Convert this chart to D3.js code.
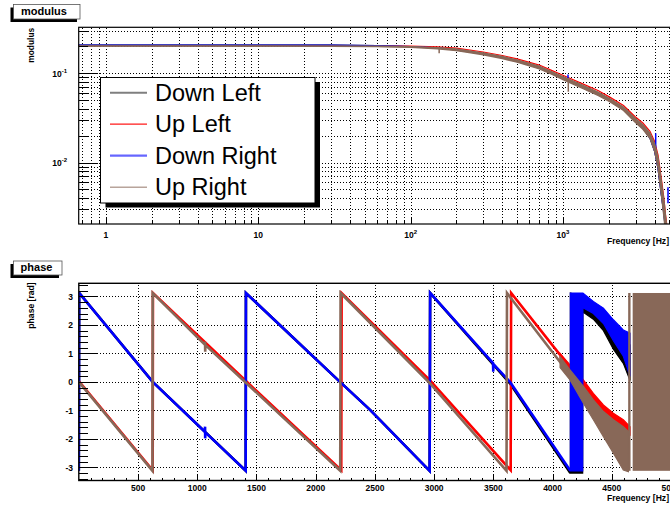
<!DOCTYPE html>
<html><head><meta charset="utf-8">
<script src="https://cdn.jsdelivr.net/npm/d3@7"></script>
<style>
html,body{margin:0;padding:0;background:#fff;}
svg{display:block;font-family:"Liberation Sans",Arial,Helvetica,sans-serif;}
</style></head><body>
<svg id="c" width="670" height="505"></svg>
<script>
// ---------------- DATA ----------------
const seriesNames = ["Down Left", "Up Left", "Down Right", "Up Right"];

// modulus (top panel)
const modFreq      = [0.65, 1, 3, 10, 30, 60, 100, 150, 200, 300, 400, 500, 700, 850, 1000, 1360, 1700, 2030, 2500, 2970, 3350, 3730, 4000, 4210, 4440, 4610, 4720, 4850, 5000];
const downLeftMod  = [0.207, 0.207, 0.207, 0.207, 0.206, 0.204, 0.199, 0.192, 0.183, 0.165, 0.150, 0.137, 0.116, 0.100, 0.0885, 0.070, 0.059, 0.050, 0.040, 0.0298, 0.0243, 0.0188, 0.0134, 0.0086, 0.0042, 0.0026, 0.0017, 0.0012, 0.0009];
const upLeftMod    = [0.204, 0.204, 0.204, 0.204, 0.2035, 0.202, 0.202, 0.198, 0.191, 0.173, 0.158, 0.145, 0.1235, 0.107, 0.095, 0.0755, 0.064, 0.054, 0.0435, 0.0328, 0.0277, 0.0224, 0.0172, 0.0122, 0.0064, 0.0039, 0.0026, 0.0018, 0.0013];
const downRightMod = [0.207, 0.207, 0.207, 0.207, 0.206, 0.204, 0.199, 0.192, 0.183, 0.165, 0.150, 0.137, 0.116, 0.100, 0.0885, 0.070, 0.059, 0.050, 0.040, 0.0298, 0.0243, 0.0188, 0.0134, 0.0086, 0.0042, 0.0026, 0.0017, 0.0012, 0.0009];
const upRightMod   = [0.2015, 0.2015, 0.2015, 0.2015, 0.201, 0.200, 0.197, 0.191, 0.183, 0.165, 0.150, 0.137, 0.116, 0.100, 0.0885, 0.070, 0.059, 0.050, 0.040, 0.030, 0.025, 0.020, 0.0148, 0.010, 0.005, 0.003, 0.002, 0.0014, 0.0010];
const upRightModHi = [0.202, 0.202, 0.202, 0.202, 0.2015, 0.201, 0.199, 0.194, 0.187, 0.169, 0.154, 0.141, 0.120, 0.104, 0.092, 0.073, 0.0615, 0.052, 0.0418, 0.0316, 0.0265, 0.0214, 0.0163, 0.0115, 0.0060, 0.0037, 0.0025, 0.0017, 0.0012];
const upRightModLo = [0.201, 0.201, 0.201, 0.201, 0.2005, 0.199, 0.195, 0.188, 0.179, 0.161, 0.146, 0.133, 0.112, 0.097, 0.085, 0.067, 0.0565, 0.048, 0.0383, 0.0285, 0.0236, 0.0187, 0.0134, 0.0087, 0.0042, 0.0024, 0.0016, 0.0011, 0.0009];
// narrow spikes in modulus
const modSpikeSeries = ["Down Right", "Up Right", "Up Right", "Down Right", "Down Right"];
const modSpikeFreq   = [1080, 154, 1085, 4066, 4898];
const modSpikeLo     = [0.088, 0.168, 0.062, 0.0145, 0.0035];
const modSpikeHi     = [0.097, 0.197, 0.088, 0.0213, 0.0053];

// phase (bottom panel) : polylines
const downLeftPhF  = [0, 3, 624, 1409, 1411, 2205, 2459, 2962, 2966, 3640, 4150];
const downLeftPhV  = [-3.12, 3.12, 0.0, -3.12, 3.12, 0.0, -0.98, -3.12, 3.12, -0.05, -3.2];
const upLeftPhF    = [0, 624, 626, 1409, 2216, 2219, 2965, 3646, 3650, 4063, 4150];
const upLeftPhV    = [0.03, -3.1, 3.12, 0.04, -3.1, 3.12, 0.05, -3.1, 3.12, 0.95, 0.5];
const downRightPhF = [0, 3, 624, 1064, 1066, 1067, 1069, 1409, 1411, 2205, 2459, 2962, 2966, 3497, 3499, 3501, 3640, 4150];
const downRightPhV = [-3.12, 3.12, 0.0, -1.75, -1.57, -1.98, -1.77, -3.12, 3.12, 0.0, -0.98, -3.12, 3.12, 0.66, 0.36, 0.62, 0.0, -3.12];
const upRightPhF   = [0, 622, 624, 1064, 1066, 1067, 1069, 1409, 2207, 2210, 2960, 3611, 3615, 4063, 4150];
const upRightPhV   = [0.0, -3.12, 3.12, 1.31, 1.41, 1.06, 1.29, -0.02, -3.12, 3.12, -0.03, -3.12, 3.12, 0.7, 0.25];

// phase : noisy envelopes at high frequency
const downLeftBandF  = [4150, 4254, 4256, 4344, 4429, 4513, 4597, 4654];
const downLeftBandHi = [3.12, 3.0, 2.95, 2.7, 2.4, 2.0, 1.6, 1.3];
const downLeftBandLo = [-3.2, -3.2, 2.45, 2.2, 1.8, 1.15, 0.65, 0.05];
const upLeftBandF    = [4063, 4147, 4260, 4344, 4429, 4513, 4597, 4654];
const upLeftBandHi   = [1.0, 0.6, 0.07, -0.4, -0.81, -1.1, -1.33, -1.57];
const upLeftBandLo   = [0.75, 0.36, -0.28, -0.87, -1.33, -1.57, -1.74, -1.86];
const downRightBandF  = [4150, 4254, 4256, 4344, 4429, 4513, 4597, 4654];
const downRightBandHi = [3.12, 3.12, 3.12, 2.82, 2.59, 2.18, 1.82, 1.71];
const downRightBandLo = [-3.12, -3.12, 2.6, 2.4, 2.05, 1.45, 0.9, 0.2];
const upRightBandF   = [4063, 4147, 4260, 4344, 4429, 4513, 4597, 4640];
const upRightBandHi  = [0.89, 0.42, -0.16, -0.63, -1.04, -1.33, -1.57, -1.74];
const upRightBandLo  = [0.5, 0.07, -0.75, -1.33, -1.92, -2.5, -3.09, -3.15];
const upRightFillStart = [4638, 4676];
const upRightFillEnd   = [4658, 5200];
const fullPhaseLo = -3.12, fullPhaseHi = 3.12;

// ticks
const modXMajor = [1, 10, 100, 1000];
const modXLabelBase = ["1", "10", "10", "10"];
const modXLabelExp  = ["", "", "2", "3"];
const modXMinor = [0.7, 0.8, 0.9, 2, 3, 4, 5, 6, 7, 8, 9, 20, 30, 40, 50, 60, 70, 80, 90, 200, 300, 400, 500, 600, 700, 800, 900, 2000, 3000, 4000, 5000, 6000];
const modYMajor = [0.01, 0.1];
const modYLabelExp = ["-2", "-1"];
const modYMinor = [0.003, 0.004, 0.005, 0.006, 0.007, 0.008, 0.009, 0.02, 0.03, 0.04, 0.05, 0.06, 0.07, 0.08, 0.09, 0.2, 0.3];
const phXMajor = [500, 1000, 1500, 2000, 2500, 3000, 3500, 4000, 4500, 5000];
const phXLabels = ["500", "1000", "1500", "2000", "2500", "3000", "3500", "4000", "4500", "5000"];
const phYMajor = [-3, -2, -1, 0, 1, 2, 3];
const phYLabels = ["-3", "-2", "-1", "0", "1", "2", "3"];

// ---------------- STYLE / LAYOUT ----------------
const colors = {"Down Left": "#000000", "Up Left": "#ff0000", "Down Right": "#0000ff", "Up Right": "#886858"};
const svg = d3.select("#c");
svg.append("rect").attr("width", 670).attr("height", 505).attr("fill", "#fff");

const P1 = {x0: 78.7, x1: 690, y0: 27.3, y1: 224};
const P2 = {x0: 78.8, x1: 690, y0: 283.3, y1: 480.5};

const xT = d3.scaleLog().domain([0.662, 6830]).range([P1.x0, P1.x1]);
const yT = d3.scaleLog().domain([0.00205, 0.327]).range([P1.y1, P1.y0]);
const xB = d3.scaleLinear().domain([0, 5160]).range([P2.x0, P2.x1]);
const yB = d3.scaleLinear().domain([-3.46, 3.46]).range([P2.y1, P2.y0]);

const defs = svg.append("defs");
defs.append("clipPath").attr("id", "clip1").append("rect")
  .attr("x", P1.x0).attr("y", P1.y0).attr("width", P1.x1 - P1.x0).attr("height", P1.y1 - P1.y0);
defs.append("clipPath").attr("id", "clip2").append("rect")
  .attr("x", P2.x0).attr("y", P2.y0).attr("width", P2.x1 - P2.x0).attr("height", P2.y1 - P2.y0);

function styleAxis(g, dashed) {
  g.select(".domain").remove();
  g.selectAll(".tick line").attr("stroke", "#000").attr("stroke-width", 1)
    .attr("shape-rendering", "crispEdges")
    .attr("stroke-dasharray", dashed ? "1,2" : null);
  g.selectAll(".tick text").remove();
}

// ---------------- TOP PANEL ----------------
const g1 = svg.append("g");
// grid
g1.append("g").attr("transform", `translate(0,${P1.y1})`)
  .call(d3.axisBottom(xT).tickValues(modXMajor.concat(modXMinor)).tickSize(-(P1.y1 - P1.y0)).tickFormat(""))
  .call(g => styleAxis(g, true));
g1.append("g").attr("transform", `translate(${P1.x0},0)`)
  .call(d3.axisLeft(yT).tickValues(modYMajor.concat(modYMinor)).tickSize(-(P1.x1 - P1.x0)).tickFormat(""))
  .call(g => styleAxis(g, true));

const c1 = g1.append("g").attr("clip-path", "url(#clip1)");
const modSeries = {"Down Left": downLeftMod, "Up Left": upLeftMod, "Down Right": downRightMod, "Up Right": upRightMod};
const lineT = d3.line().x(d => xT(d[0])).y(d => yT(d[1]));
seriesNames.forEach(name => {
  const vals = modSeries[name];
  if (name === "Up Right") {
    const band = modFreq.map((f, i) => [f, upRightModLo[i], upRightModHi[i]]);
    c1.append("path").datum(band)
      .attr("d", d3.area().x(d => xT(d[0])).y0(d => yT(d[1])).y1(d => yT(d[2])))
      .attr("fill", colors[name]).attr("stroke", colors[name]).attr("stroke-width", 1.3);
  }
  c1.append("path").datum(modFreq.map((f, i) => [f, vals[i]]))
    .attr("d", lineT).attr("fill", "none").attr("stroke", colors[name])
    .attr("stroke-width", 1.2);
  modSpikeFreq.forEach((f, i) => {
    if (modSpikeSeries[i] !== name) return;
    c1.append("line").attr("x1", xT(f)).attr("x2", xT(f))
      .attr("y1", yT(modSpikeLo[i])).attr("y2", yT(modSpikeHi[i]))
      .attr("stroke", colors[name]).attr("stroke-width", 1.5);
  });
});

// frame
g1.append("rect").attr("x", P1.x0).attr("y", P1.y0).attr("width", P1.x1 - P1.x0).attr("height", P1.y1 - P1.y0)
  .attr("fill", "none").attr("stroke", "#000").attr("stroke-width", 1.2);
// ticks
g1.append("g").attr("transform", `translate(0,${P1.y1})`)
  .call(d3.axisBottom(xT).tickValues(modXMajor).tickSize(-6).tickFormat("")).call(g => styleAxis(g, false));
g1.append("g").attr("transform", `translate(0,${P1.y1})`)
  .call(d3.axisBottom(xT).tickValues(modXMinor).tickSize(-3).tickFormat("")).call(g => styleAxis(g, false));
g1.append("g").attr("transform", `translate(${P1.x0},0)`)
  .call(d3.axisLeft(yT).tickValues(modYMajor).tickSize(-18).tickFormat("")).call(g => styleAxis(g, false));
g1.append("g").attr("transform", `translate(${P1.x0},0)`)
  .call(d3.axisLeft(yT).tickValues(modYMinor).tickSize(-9).tickFormat("")).call(g => styleAxis(g, false));

// tick labels
modXMajor.forEach((v, i) => {
  const t = g1.append("text").attr("x", xT(v)).attr("y", 237.5).attr("text-anchor", "middle")
    .attr("font-size", 8.5).attr("font-weight", "bold");
  t.append("tspan").text(modXLabelBase[i]);
  if (modXLabelExp[i]) t.append("tspan").attr("dy", -4).attr("font-size", 6).text(modXLabelExp[i]);
});
modYMajor.forEach((v, i) => {
  const t = g1.append("text").attr("x", 67).attr("y", yT(v) + 3.5).attr("text-anchor", "end")
    .attr("font-size", 8.5).attr("font-weight", "bold");
  t.append("tspan").text("10");
  t.append("tspan").attr("dy", -4).attr("font-size", 6).text(modYLabelExp[i]);
});
g1.append("text").attr("x", 669).attr("y", 244).attr("text-anchor", "end")
  .attr("font-size", 8.6).attr("font-weight", "bold").text("Frequency [Hz]");
g1.append("text").attr("transform", `translate(33.5,${P1.y0 + 0.5}) rotate(-90)`).attr("text-anchor", "end")
  .attr("font-size", 8.4).attr("font-weight", "bold").text("modulus");

// legend
const L = {x: 100.5, y: 77.5, w: 214.5, h: 125.5};
g1.append("rect").attr("x", L.x + 5).attr("y", L.y + 4.5).attr("width", L.w).attr("height", L.h).attr("fill", "#000");
g1.append("rect").attr("x", L.x).attr("y", L.y).attr("width", L.w).attr("height", L.h)
  .attr("fill", "#fff").attr("stroke", "#000").attr("stroke-width", 1);
const legendLook = {"Down Left": [2, 0.5], "Up Left": [1.2, 0.9], "Down Right": [2.2, 0.6], "Up Right": [1.6, 0.6]};
seriesNames.forEach((name, i) => {
  const cy = 92.7 + i * 31.5;
  g1.append("line").attr("x1", 110).attr("x2", 147).attr("y1", cy).attr("y2", cy)
    .attr("stroke", colors[name]).attr("stroke-width", legendLook[name][0]).attr("stroke-opacity", legendLook[name][1]);
  g1.append("text").attr("x", 155).attr("y", cy + 8).attr("font-size", 23.5).attr("fill", "#000").text(name);
});

// ---------------- BOTTOM PANEL ----------------
const g2 = svg.append("g");
g2.append("g").attr("transform", `translate(0,${P2.y1})`)
  .call(d3.axisBottom(xB).tickValues(phXMajor).tickSize(-(P2.y1 - P2.y0)).tickFormat(""))
  .call(g => styleAxis(g, true));
g2.append("g").attr("transform", `translate(${P2.x0},0)`)
  .call(d3.axisLeft(yB).tickValues(phYMajor).tickSize(-(P2.x1 - P2.x0)).tickFormat(""))
  .call(g => styleAxis(g, true));

const c2 = g2.append("g").attr("clip-path", "url(#clip2)");
const phSeries = {
  "Down Left":  {F: downLeftPhF,  V: downLeftPhV,  bF: downLeftBandF,  bH: downLeftBandHi,  bL: downLeftBandLo},
  "Up Left":    {F: upLeftPhF,    V: upLeftPhV,    bF: upLeftBandF,    bH: upLeftBandHi,    bL: upLeftBandLo},
  "Down Right": {F: downRightPhF, V: downRightPhV, bF: downRightBandF, bH: downRightBandHi, bL: downRightBandLo},
  "Up Right":   {F: upRightPhF,   V: upRightPhV,   bF: upRightBandF,   bH: upRightBandHi,   bL: upRightBandLo}
};
const lineB = d3.line().x(d => xB(d[0])).y(d => yB(d[1]));
const areaB = d3.area().x(d => xB(d[0])).y0(d => yB(d[1])).y1(d => yB(d[2]));
seriesNames.forEach(name => {
  const s = phSeries[name];
  c2.append("path").datum(s.F.map((f, i) => [f, s.V[i]]))
    .attr("d", lineB).attr("fill", "none").attr("stroke", colors[name]).attr("stroke-width", 2.6)
    .attr("stroke-linejoin", "miter");
  c2.append("path").datum(s.bF.map((f, i) => [f, s.bL[i], s.bH[i]]))
    .attr("d", areaB).attr("fill", colors[name]).attr("stroke", colors[name]).attr("stroke-width", 1.2);
  if (name === "Up Right") {
    upRightFillStart.forEach((f0, i) => {
      c2.append("rect").attr("x", xB(f0)).attr("width", xB(upRightFillEnd[i]) - xB(f0))
        .attr("y", yB(fullPhaseHi)).attr("height", yB(fullPhaseLo) - yB(fullPhaseHi))
        .attr("fill", colors[name]);
    });
  }
});

g2.append("rect").attr("x", P2.x0).attr("y", P2.y0).attr("width", P2.x1 - P2.x0).attr("height", P2.y1 - P2.y0)
  .attr("fill", "none").attr("stroke", "#000").attr("stroke-width", 1.4);
g2.append("g").attr("transform", `translate(0,${P2.y1})`)
  .call(d3.axisBottom(xB).tickValues(phXMajor).tickSize(-6).tickFormat("")).call(g => styleAxis(g, false));
g2.append("g").attr("transform", `translate(0,${P2.y1})`)
  .call(d3.axisBottom(xB).tickValues(d3.range(0, 5200, 100).filter(v => v % 500 !== 0)).tickSize(-3).tickFormat(""))
  .call(g => styleAxis(g, false));
g2.append("g").attr("transform", `translate(${P2.x0},0)`)
  .call(d3.axisLeft(yB).tickValues(phYMajor).tickSize(-18).tickFormat("")).call(g => styleAxis(g, false));
g2.append("g").attr("transform", `translate(${P2.x0},0)`)
  .call(d3.axisLeft(yB).tickValues(d3.range(-34, 35, 2).map(v => v / 10).filter(v => Math.abs(v - Math.round(v)) > 0.01)).tickSize(-9).tickFormat(""))
  .call(g => styleAxis(g, false));

phXMajor.forEach((v, i) => {
  g2.append("text").attr("x", xB(v)).attr("y", 490.5).attr("text-anchor", "middle")
    .attr("font-size", 8.5).attr("font-weight", "bold").text(phXLabels[i]);
});
phYMajor.forEach((v, i) => {
  g2.append("text").attr("x", 73).attr("y", yB(v) + 3.2).attr("text-anchor", "end")
    .attr("font-size", 8.5).attr("font-weight", "bold").text(phYLabels[i]);
});
g2.append("text").attr("x", 669).attr("y", 500.5).attr("text-anchor", "end")
  .attr("font-size", 8.6).attr("font-weight", "bold").text("Frequency [Hz]");
g2.append("text").attr("transform", `translate(33.5,${P2.y0 - 1}) rotate(-90)`).attr("text-anchor", "end")
  .attr("font-size", 8.6).attr("font-weight", "bold").text("phase [rad]");

// ---------------- TITLE BOXES ----------------
function titleBox(x, y, w, h, label, tx, ty) {
  svg.append("rect").attr("x", x - 3).attr("y", y + 3).attr("width", w).attr("height", h).attr("fill", "#000");
  svg.append("rect").attr("x", x).attr("y", y).attr("width", w).attr("height", h)
    .attr("fill", "#fff").attr("stroke", "#555").attr("stroke-width", 0.8);
  svg.append("text").attr("x", tx).attr("y", ty).attr("text-anchor", "middle")
    .attr("font-size", 11).attr("font-weight", "bold").text(label);
}
titleBox(13.5, 4.5, 66.5, 14.5, "modulus", 44, 15);
titleBox(13.5, 261, 48.5, 14, "phase", 36.5, 271);
</script>
</body></html>
